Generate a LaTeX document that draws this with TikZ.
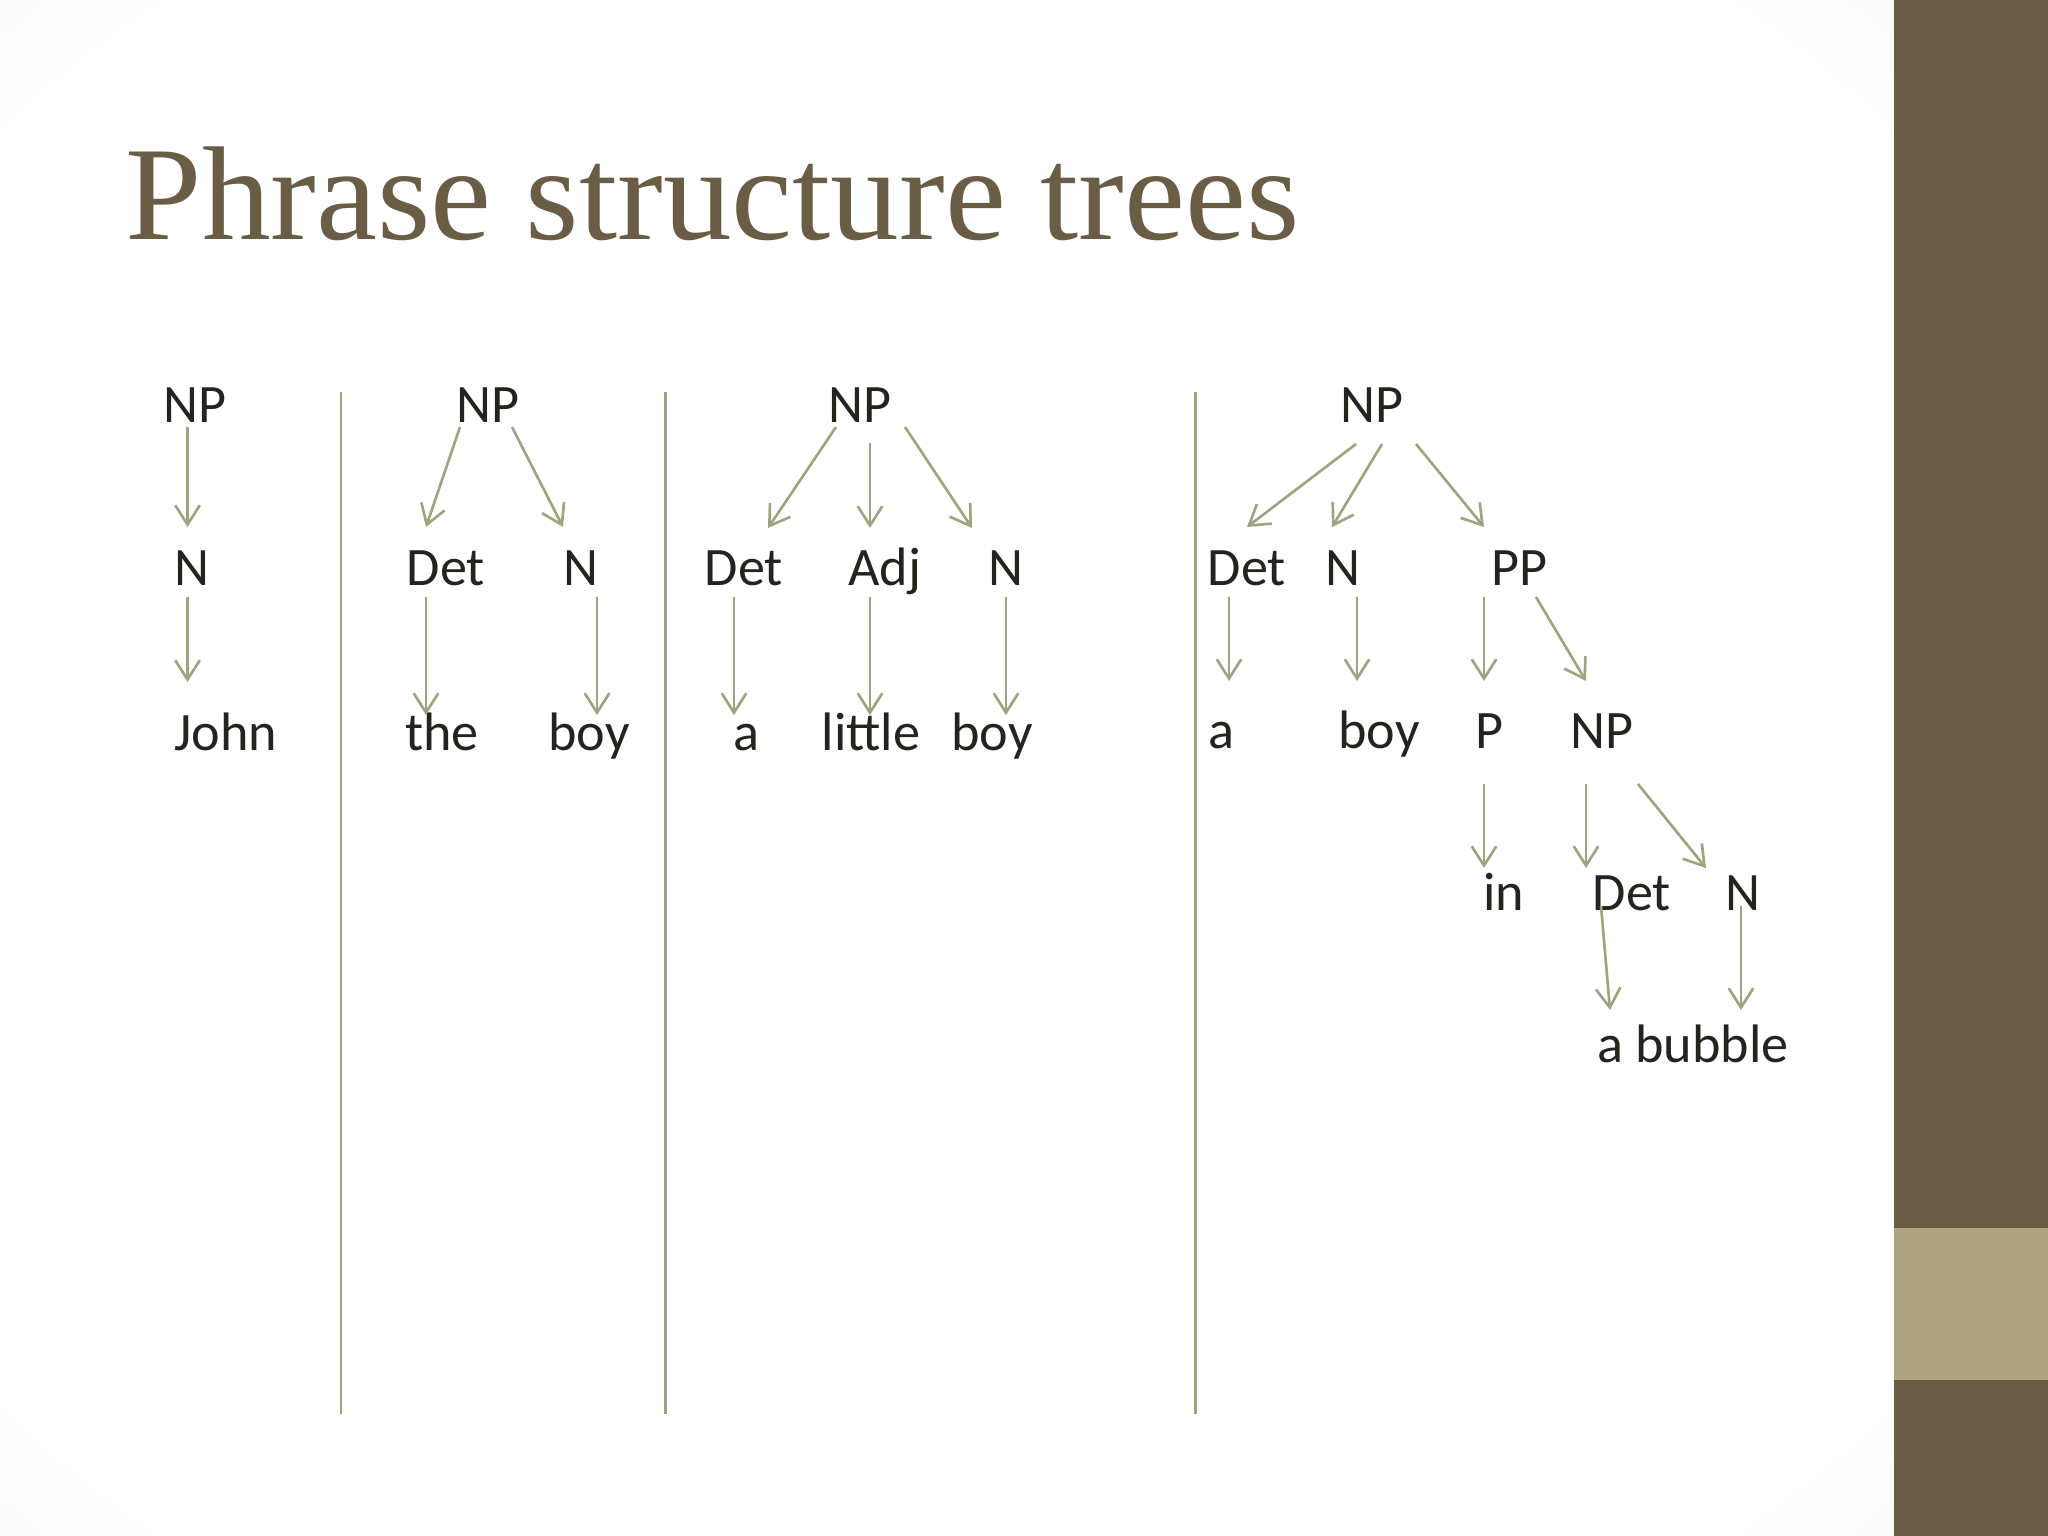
\documentclass[tikz,border=0pt]{standalone}
\usepackage{fontspec}
\setmainfont{Carlito}
\newfontfamily\titlefont{Liberation Serif}
\usetikzlibrary{arrows.meta}
\definecolor{olivedark}{RGB}{105,94,69}
\definecolor{olivelight}{RGB}{171,164,126}
\definecolor{branch}{RGB}{160,163,128}
\definecolor{ink}{RGB}{36,35,30}
\pgfdeclareradialshading{vignette}{\pgfpoint{0bp}{0bp}}{color(0bp)=(white); color(32bp)=(white); color(50bp)=(black!7); color(72bp)=(black!20)}
\begin{document}
\begin{tikzpicture}[x=0.01cm, y=-0.01cm,
    every node/.style={anchor=base, inner sep=0pt, text=ink, font=\fontsize{15.4}{18}\selectfont},
    arr/.style={-{Straight Barb[length=5.5pt,width=7pt]}, line width=0.75pt, branch},
    divider/.style={line width=0.85pt, branch}]
\useasboundingbox (0,0) rectangle (2048,1536);
\shade[shading=vignette] (0,0) rectangle (1894,1536);
\fill[olivedark] (1894,0) rectangle (2048,1536);
\fill[olivelight] (1894,1228) rectangle (2048,1380);

\node[anchor=base west, text=olivedark, font=\titlefont\fontsize{38}{44}\selectfont, xscale=1.027, transform shape] (title) at (125,239) {Phrase structure trees};

% separators
\draw[divider] (341,392) -- (341,1414);
\draw[divider] (665,392) -- (665,1414);
\draw[divider] (1195,392) -- (1195,1414);

% tree 1
\node (np1) at (195,422) {NP};
\node (n1) at (192,585) {N};
\node (john) at (226,750) {John};
\draw[arr] ([shift={(-7.5,5)}]np1.base) -- ([shift={(-4.5,-58)}]n1.base);
\draw[arr] ([shift={(-4.5,12)}]n1.base) -- ([shift={(-38.5,-68)}]john.base);

% tree 2
\node (np2) at (488,422) {NP};
\node (det2) at (446,585) {Det};
\node (n2) at (581,585) {N};
\node (the) at (442,750) {the};
\node (boy2) at (589,750) {boy};
\draw[arr] ([shift={(-28,5)}]np2.base) -- ([shift={(-20,-58)}]det2.base);
\draw[arr] ([shift={(24,5)}]np2.base) -- ([shift={(-18,-58)}]n2.base);
\draw[arr] ([shift={(-20,12)}]det2.base) -- ([shift={(-16,-35)}]the.base);
\draw[arr] ([shift={(16,12)}]n2.base) -- ([shift={(8,-35)}]boy2.base);

% tree 3
\node (np3) at (860,422) {NP};
\node (det3) at (744,585) {Det};
\node (adj3) at (885,585) {Adj};
\node (n3) at (1006,585) {N};
\node (a3) at (746,750) {a};
\node (little) at (871,750) {little};
\node (boy3) at (992,750) {boy};
\draw[arr] ([shift={(-24,5)}]np3.base) -- ([shift={(24,-57)}]det3.base);
\draw[arr] ([shift={(10,21)}]np3.base) -- ([shift={(-15,-57)}]adj3.base);
\draw[arr] ([shift={(45,5)}]np3.base) -- ([shift={(-34,-57)}]n3.base);
\draw[arr] ([shift={(-10,12)}]det3.base) -- ([shift={(-12,-35)}]a3.base);
\draw[arr] ([shift={(-15,12)}]adj3.base) -- ([shift={(-1,-35)}]little.base);
\draw[arr] ([shift={(0,12)}]n3.base) -- ([shift={(14,-35)}]boy3.base);

% tree 4
\node (np4) at (1372,422) {NP};
\node (det4) at (1247,585) {Det};
\node (n4) at (1343,585) {N};
\node (pp4) at (1519,585) {PP};
\node (a4) at (1221,748) {a};
\node (boy4) at (1379,748) {boy};
\node (p4) at (1489,748) {P};
\node (np4b) at (1602,748) {NP};
\node (in4) at (1504,910) {in};
\node (det4b) at (1632,910) {Det};
\node (n4b) at (1743,910) {N};
\node (bubble) at (1693,1062) {a bubble};
\draw[arr] ([shift={(-16,22)}]np4.base) -- ([shift={(0,-58)}]det4.base);
\draw[arr] ([shift={(10,22)}]np4.base) -- ([shift={(-11,-58)}]n4.base);
\draw[arr] ([shift={(44,22)}]np4.base) -- ([shift={(-35,-58)}]pp4.base);
\draw[arr] ([shift={(-18,12)}]det4.base) -- ([shift={(8,-67)}]a4.base);
\draw[arr] ([shift={(14,12)}]n4.base) -- ([shift={(-22,-67)}]boy4.base);
\draw[arr] ([shift={(-35,12)}]pp4.base) -- ([shift={(-5,-67)}]p4.base);
\draw[arr] ([shift={(17,12)}]pp4.base) -- ([shift={(-16,-67)}]np4b.base);
\draw[arr] ([shift={(-5,36)}]p4.base) -- ([shift={(-20,-42)}]in4.base);
\draw[arr] ([shift={(-16,36)}]np4b.base) -- ([shift={(-46,-42)}]det4b.base);
\draw[arr] ([shift={(36,36)}]np4b.base) -- ([shift={(-37,-42)}]n4b.base);
\draw[arr] ([shift={(-31,-4)}]det4b.base) -- ([shift={(-83,-52)}]bubble.base);
\draw[arr] ([shift={(-2,-4)}]n4b.base) -- ([shift={(48,-52)}]bubble.base);
\end{tikzpicture}
\end{document}
